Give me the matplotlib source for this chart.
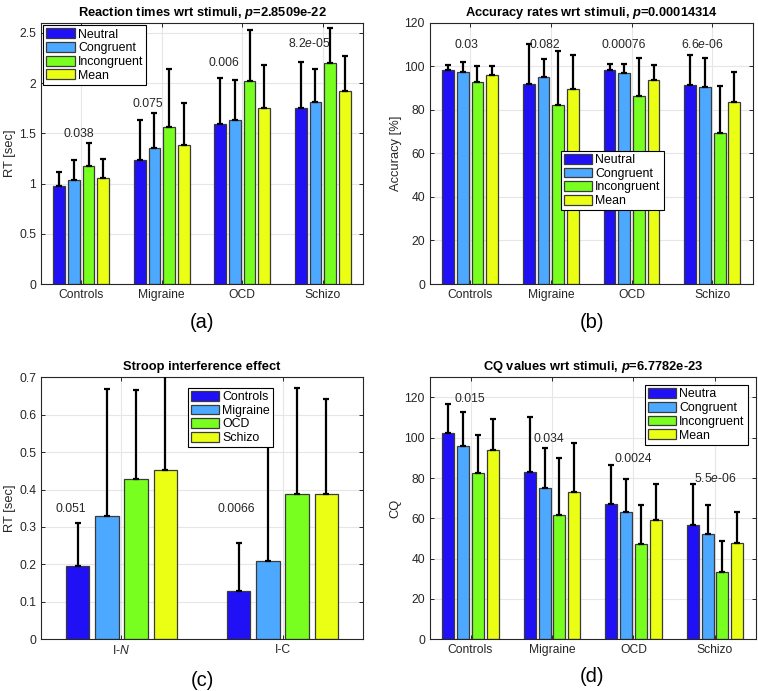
import matplotlib
matplotlib.use('Agg')
import matplotlib.pyplot as plt
import numpy as np
from matplotlib.ticker import FuncFormatter

plt.rcParams['font.family'] = ['Liberation Sans', 'DejaVu Sans']
plt.rcParams['mathtext.fontset'] = 'custom'
plt.rcParams['mathtext.rm'] = 'Liberation Sans'
plt.rcParams['mathtext.it'] = 'Liberation Sans:italic'
plt.rcParams['mathtext.bf'] = 'Liberation Sans:bold'
plt.rcParams['mathtext.bfit'] = 'Liberation Sans:italic:bold'

# data
groups = ['Controls', 'Migraine', 'OCD', 'Schizo']
stimuli = ['Neutral', 'Congruent', 'Incongruent', 'Mean']

rt_mean = [[0.98, 1.04, 1.17, 1.06],
           [1.23, 1.35, 1.56, 1.38],
           [1.59, 1.63, 2.02, 1.75],
           [1.75, 1.81, 2.20, 1.92]]
rt_sd = [[0.13, 0.19, 0.23, 0.18],
         [0.40, 0.35, 0.58, 0.42],
         [0.46, 0.40, 0.51, 0.43],
         [0.46, 0.33, 0.35, 0.35]]
rt_p = ['0.038', '0.075', '0.006', '8.2$\\mathit{e}$-05']

acc_mean = [[98.3, 97.2, 93.0, 96.2],
            [92.1, 95.2, 82.3, 89.8],
            [98.5, 96.8, 86.3, 93.8],
            [91.3, 90.3, 69.6, 83.8]]
acc_sd = [[2.3, 4.8, 7.3, 3.8],
          [18.0, 8.3, 24.7, 15.2],
          [2.5, 4.5, 17.7, 7.0],
          [14.0, 13.7, 21.4, 13.8]]
acc_p = ['0.03', '0.082', '0.00076', '6.6$\\mathit{e}$-06']

stroop_groups = ['I-$\\mathit{N}$', 'I-C']
stroop_mean = [[0.195, 0.129],
               [0.328, 0.209],
               [0.427, 0.388],
               [0.451, 0.387]]
stroop_sd = [[0.115, 0.128],
             [0.340, 0.306],
             [0.240, 0.283],
             [0.300, 0.255]]
stroop_p = ['0.051', '0.0066']

cq_labels = ['Neutra', 'Congruent', 'Incongruent', 'Mean']
cq_mean = [[102.4, 95.9, 82.4, 93.7],
           [82.9, 75.0, 61.5, 73.1],
           [66.9, 63.0, 47.3, 59.0],
           [56.9, 52.0, 33.4, 47.6]]
cq_sd = [[14.1, 17.0, 19.1, 15.6],
         [27.2, 19.8, 28.4, 24.1],
         [19.4, 16.7, 19.2, 17.9],
         [20.0, 14.5, 15.2, 15.3]]
cq_p = ['0.015', '0.034', '0.0024', '5.5$\\mathit{e}$-06']

colors = ['#2010f5', '#4da8ff', '#78ff20', '#eaff14']
fs = 8.7
dark = '#262626'


def grouped(ax, means, sds, series_first=False):
    means = np.array(means)
    sds = np.array(sds)
    if series_first:
        means = means.T
        sds = sds.T
    ngroups, nser = means.shape
    x = np.arange(1, ngroups + 1)
    step = min(0.8, nser / (nser + 1.5)) / nser
    handles = []
    for j in range(nser):
        xs = x + (j - (nser - 1) / 2) * step
        b = ax.bar(xs, means[:, j], width=step * 0.8, color=colors[j],
                   edgecolor='#3a3a3a', linewidth=0.9, zorder=2)
        handles.append(b)
        ax.errorbar(xs, means[:, j], yerr=[np.zeros(ngroups), sds[:, j]],
                    fmt='none', ecolor='k', elinewidth=1.6, capsize=2.0,
                    capthick=1.6, zorder=3)
    ax.set_xlim(0.5, ngroups + 0.5)
    ax.set_xticks(x)
    return handles


def style(ax, title, ylabel, yticks, ylim):
    ax.set_ylim(*ylim)
    ax.set_yticks(yticks)
    ax.yaxis.set_major_formatter(FuncFormatter(lambda v, p: '{:g}'.format(round(v, 6))))
    ax.set_title(title, fontsize=9.3, fontweight='bold', pad=5, color='k')
    ax.set_ylabel(ylabel, fontsize=9.3, color=dark, labelpad=2)
    ax.grid(True, color='#e6e6e6', linewidth=0.8, zorder=0)
    ax.set_axisbelow(True)
    ax.tick_params(direction='in', top=True, right=True, labelsize=fs,
                   colors=dark, length=3, width=0.7)
    for s in ax.spines.values():
        s.set_color(dark)
        s.set_linewidth(0.8)


def legend(ax, handles, labels, pad=0.2, **kw):
    leg = ax.legend(handles, labels, fontsize=fs + 0.2, fancybox=False, framealpha=1,
                    edgecolor='k', borderpad=0.25, labelspacing=0.12,
                    handlelength=2.3, handleheight=0.85, handletextpad=0.25,
                    borderaxespad=pad, **kw)
    leg.get_frame().set_linewidth(0.8)
    leg.set_zorder(5)


fig = plt.figure(figsize=(7.58, 6.91), dpi=100)

# (a)
ax1 = fig.add_axes([0.054, 0.589, 0.425, 0.378])
h = grouped(ax1, rt_mean, rt_sd)
ax1.set_xticklabels(groups)
style(ax1, 'Reaction times wrt stimuli, $\\mathbfit{p}$=2.8509e-22', 'RT [sec]',
      np.arange(0, 2.6, 0.5), (0, 2.6))
rt_px = [0.975, 1.83, 2.77, 3.83]
rt_py = [1.49, 1.79, 2.20, 2.39]
for t, px, py in zip(rt_p, rt_px, rt_py):
    ax1.text(px, py, t, ha='center', va='center', fontsize=fs, color=dark, zorder=4)
legend(ax1, h, stimuli, loc='upper left')

# (b)
ax2 = fig.add_axes([0.567, 0.589, 0.426, 0.378])
h = grouped(ax2, acc_mean, acc_sd)
ax2.set_xticklabels(groups)
style(ax2, 'Accuracy rates wrt stimuli, $\\mathbfit{p}$=0.00014314', 'Accuracy [%]',
      np.arange(0, 121, 20), (0, 120))
acc_px = [0.95, 1.92, 2.9, 3.88]
for t, px in zip(acc_p, acc_px):
    ax2.text(px, 110, t, ha='center', va='center', fontsize=fs, color=dark, zorder=4)
legend(ax2, h, stimuli, pad=0, loc='upper left', bbox_to_anchor=(0.405, 0.51))

# (c)
ax3 = fig.add_axes([0.054, 0.075, 0.425, 0.379])
h = grouped(ax3, stroop_mean, stroop_sd, series_first=True)
ax3.set_xticklabels(stroop_groups)
style(ax3, 'Stroop interference effect', 'RT [sec]', np.arange(0, 0.71, 0.1), (0, 0.7))
for t, px in zip(stroop_p, [0.686, 1.71]):
    ax3.text(px, 0.347, t, ha='center', va='center', fontsize=fs, color=dark, zorder=4)
legend(ax3, h, groups, pad=0, loc='upper left', bbox_to_anchor=(0.455, 0.96))

# (d)
ax4 = fig.add_axes([0.567, 0.075, 0.43, 0.379])
h = grouped(ax4, cq_mean, cq_sd)
ax4.set_xticklabels(groups)
style(ax4, 'CQ values wrt stimuli, $\\mathbfit{p}$=6.7782e-23', 'CQ',
      np.arange(0, 121, 20), (0, 130))
cq_px = [0.99, 1.965, 3.0, 4.0]
cq_py = [119.2, 99.3, 89.6, 79.7]
for t, px, py in zip(cq_p, cq_px, cq_py):
    ax4.text(px, py, t, ha='center', va='center', fontsize=fs, color=dark, zorder=4)
legend(ax4, h, cq_labels, pad=0, loc='upper right', bbox_to_anchor=(0.975, 0.97))

for lab, x, y in [('(a)', 202, 322), ('(b)', 592, 322), ('(c)', 202, 680), ('(d)', 592, 677)]:
    fig.text(x / 758, 1 - y / 691, lab, ha='center', va='center', fontsize=14.5, color='k')

fig.savefig('out.png', dpi=100)
